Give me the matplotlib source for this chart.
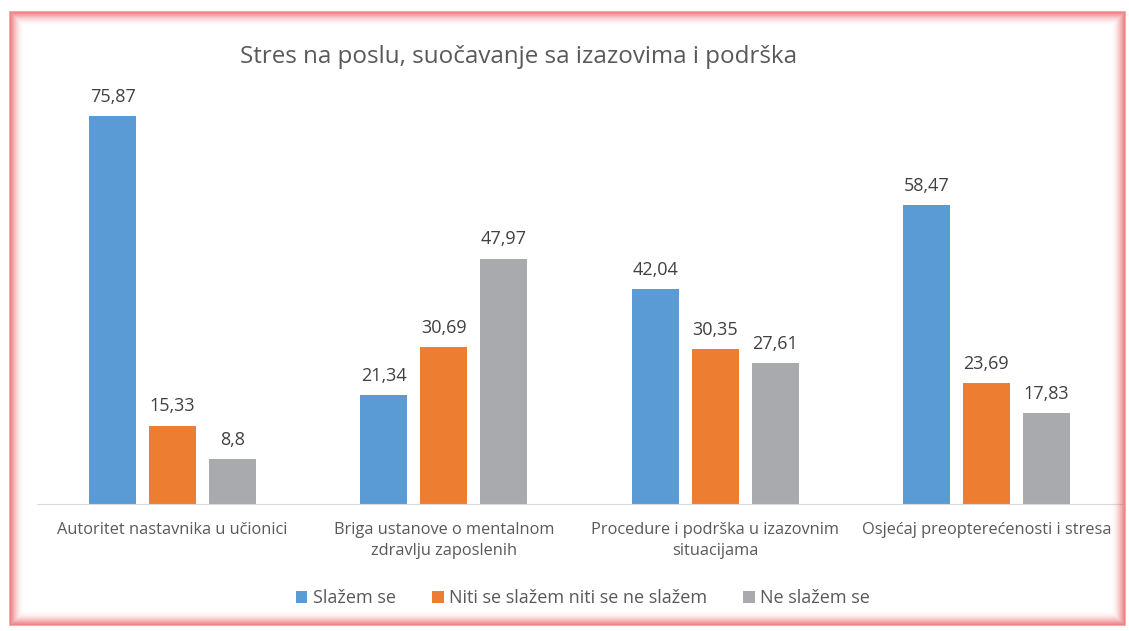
import matplotlib
matplotlib.use("Agg")
import matplotlib.pyplot as plt
import numpy as np
from matplotlib.patches import Rectangle

categories = ["Autoritet nastavnika u učionici",
              "Briga ustanove o mentalnom\nzdravlju zaposlenih",
              "Procedure i podrška u izazovnim\nsituacijama",
              "Osjećaj preopterećenosti i stresa"]
series_names = ["Slažem se", "Niti se slažem niti se ne slažem", "Ne slažem se"]
slazem = [75.87, 21.34, 42.04, 58.47]
niti = [15.33, 30.69, 30.35, 23.69]
ne_slazem = [8.8, 47.97, 27.61, 17.83]
labels_slazem = ["75,87", "21,34", "42,04", "58,47"]
labels_niti = ["15,33", "30,69", "30,35", "23,69"]
labels_ne = ["8,8", "47,97", "27,61", "17,83"]
colors = ["#5B9BD5", "#ED7D31", "#A9AAAD"]

plt.rcParams['font.family'] = ['Open Sans', 'DejaVu Sans']
W, H = 1129, 631
fig = plt.figure(figsize=(W/100, H/100), dpi=100)

# glowing red frame
x0, y0, x1, y1 = 10, 12, 1125, 625
steps = 14
for i in range(steps):
    a = 0.55 * (1 - i/steps)**2
    r = Rectangle(((x0+i)/W, 1-(y1-i)/H), (x1-x0-2*i)/W, (y1-y0-2*i)/H,
                  transform=fig.transFigure, fill=False, edgecolor="#E8494F",
                  linewidth=1.2, alpha=a)
    fig.add_artist(r)

ax = fig.add_axes([37/W, (H-504)/H, 1085/W, 424.5/H])
x = np.arange(len(categories))
step = 0.221
width = 0.173
data = [slazem, niti, ne_slazem]
labs = [labels_slazem, labels_niti, labels_ne]
for k in range(3):
    bars = ax.bar(x + (k-1)*step, data[k], width, color=colors[k], label=series_names[k])
    for b, t in zip(bars, labs[k]):
        ax.text(b.get_x()+b.get_width()/2, b.get_height()+2.0, t, ha='center', va='bottom',
                fontsize=13, color="#404040")

ax.set_xlim(-0.5, 3.5)
ax.set_ylim(0, 83)
ax.set_yticks([])
for s in ['top', 'right', 'left']:
    ax.spines[s].set_visible(False)
ax.spines['bottom'].set_color("#D9D9D9")
ax.set_xticks(x)
ax.set_xticklabels(categories, fontsize=11.8, color="#595959", linespacing=1.45)
ax.tick_params(axis='x', length=0, pad=13)

fig.text(519/W, 1-57/H, "Stres na poslu, suočavanje sa izazovima i podrška",
         ha='center', va='center', fontsize=17.4, color="#595959")

fig.legend(loc='center', bbox_to_anchor=(583/W, 1-598/H), ncol=3, frameon=False,
           fontsize=13, handlelength=0.65, handleheight=0.65, handletextpad=0.3,
           columnspacing=2.0, labelcolor="#595959")

fig.savefig("out.png", dpi=100)
